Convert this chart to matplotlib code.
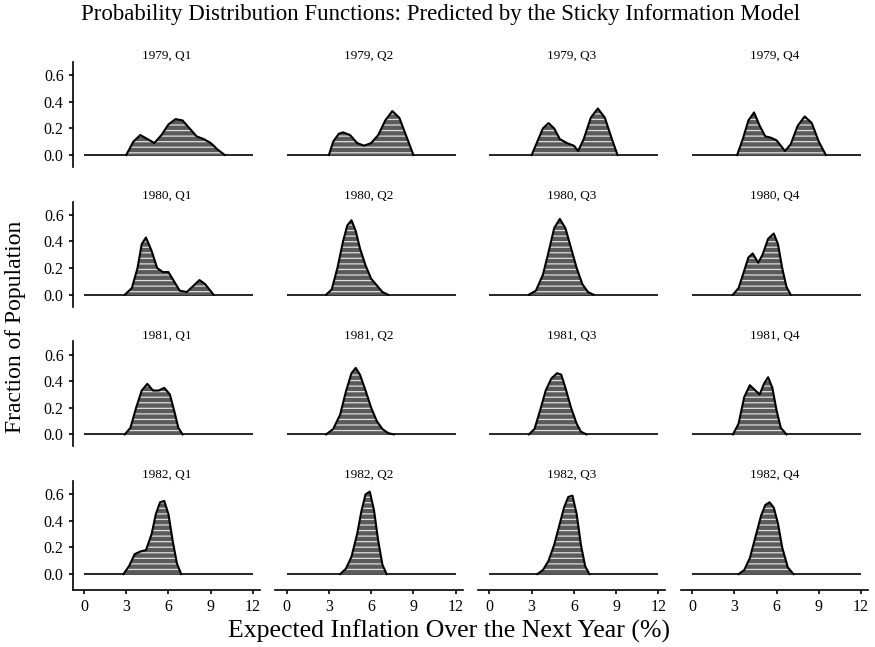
import matplotlib
matplotlib.use("Agg")
import matplotlib.pyplot as plt

plt.rcParams["font.family"] = ["Liberation Serif", "DejaVu Serif"]
plt.rcParams["hatch.linewidth"] = 0.9

years = ["1979", "1980", "1981", "1982"]
quarters = ["Q1", "Q2", "Q3", "Q4"]
x_ticks = [0, 3, 6, 9, 12]
y_ticks = [0.0, 0.2, 0.4, 0.6]

# density curves: (inflation %, fraction)
x_1979_q1 = [3.0, 3.5, 4.0, 4.5, 5.0, 5.5, 6.0, 6.5, 7.0, 7.5, 8.0, 8.5, 9.0, 9.5, 10.0]
y_1979_q1 = [0, 0.1, 0.15, 0.12, 0.09, 0.15, 0.23, 0.27, 0.26, 0.2, 0.14, 0.12, 0.09, 0.04, 0]
x_1979_q2 = [3.0, 3.3, 3.7, 4.0, 4.5, 5.0, 5.5, 6.0, 6.5, 7.0, 7.5, 8.0, 8.5, 9.0]
y_1979_q2 = [0, 0.1, 0.16, 0.17, 0.15, 0.09, 0.07, 0.09, 0.15, 0.26, 0.33, 0.28, 0.14, 0]
x_1979_q3 = [3.0, 3.4, 3.8, 4.2, 4.6, 5.0, 5.5, 6.0, 6.3, 6.7, 7.2, 7.7, 8.2, 8.7, 9.1]
y_1979_q3 = [0, 0.1, 0.2, 0.24, 0.2, 0.12, 0.09, 0.07, 0.03, 0.12, 0.28, 0.35, 0.28, 0.12, 0]
x_1979_q4 = [3.2, 3.6, 4.0, 4.4, 4.8, 5.2, 5.6, 6.0, 6.6, 7.0, 7.5, 8.0, 8.5, 9.0, 9.5]
y_1979_q4 = [0, 0.12, 0.26, 0.32, 0.22, 0.14, 0.13, 0.11, 0.03, 0.08, 0.22, 0.29, 0.24, 0.1, 0]

x_1980_q1 = [2.9, 3.4, 3.8, 4.1, 4.4, 4.8, 5.2, 5.6, 6.0, 6.4, 6.8, 7.3, 7.8, 8.2, 8.6, 9.2]
y_1980_q1 = [0, 0.05, 0.2, 0.38, 0.43, 0.33, 0.2, 0.17, 0.17, 0.1, 0.03, 0.02, 0.07, 0.11, 0.08, 0]
x_1980_q2 = [2.8, 3.2, 3.6, 4.0, 4.3, 4.6, 4.9, 5.2, 5.6, 6.0, 6.4, 6.8, 7.2]
y_1980_q2 = [0, 0.04, 0.2, 0.4, 0.52, 0.56, 0.48, 0.35, 0.22, 0.12, 0.07, 0.02, 0]
x_1980_q3 = [2.8, 3.3, 3.8, 4.2, 4.6, 5.0, 5.4, 5.8, 6.2, 6.6, 7.0, 7.4]
y_1980_q3 = [0, 0.03, 0.15, 0.32, 0.5, 0.57, 0.5, 0.35, 0.2, 0.08, 0.02, 0]
x_1980_q4 = [2.9, 3.3, 3.7, 4.0, 4.3, 4.7, 5.0, 5.4, 5.8, 6.1, 6.4, 6.7, 7.0]
y_1980_q4 = [0, 0.05, 0.18, 0.28, 0.31, 0.24, 0.3, 0.42, 0.46, 0.38, 0.2, 0.06, 0]

x_1981_q1 = [2.9, 3.3, 3.7, 4.1, 4.5, 4.9, 5.3, 5.7, 6.1, 6.4, 6.7, 7.0]
y_1981_q1 = [0, 0.05, 0.2, 0.33, 0.38, 0.33, 0.33, 0.35, 0.3, 0.18, 0.05, 0]
x_1981_q2 = [2.8, 3.3, 3.8, 4.2, 4.6, 4.9, 5.2, 5.6, 6.0, 6.4, 6.8, 7.2, 7.6]
y_1981_q2 = [0, 0.04, 0.15, 0.32, 0.46, 0.5, 0.45, 0.33, 0.2, 0.1, 0.04, 0.01, 0]
x_1981_q3 = [2.8, 3.2, 3.6, 4.0, 4.4, 4.8, 5.1, 5.4, 5.8, 6.2, 6.5, 6.9]
y_1981_q3 = [0, 0.04, 0.18, 0.33, 0.42, 0.46, 0.45, 0.35, 0.2, 0.08, 0.02, 0]
x_1981_q4 = [2.9, 3.3, 3.7, 4.1, 4.5, 4.8, 5.1, 5.4, 5.7, 6.0, 6.3, 6.7]
y_1981_q4 = [0, 0.08, 0.28, 0.37, 0.33, 0.3, 0.38, 0.43, 0.35, 0.18, 0.05, 0]

x_1982_q1 = [2.8, 3.2, 3.6, 4.0, 4.4, 4.8, 5.1, 5.4, 5.7, 6.0, 6.3, 6.6, 6.9]
y_1982_q1 = [0, 0.06, 0.15, 0.17, 0.18, 0.3, 0.45, 0.54, 0.55, 0.45, 0.25, 0.08, 0]
x_1982_q2 = [3.8, 4.2, 4.6, 5.0, 5.3, 5.6, 5.9, 6.2, 6.5, 6.8, 7.1]
y_1982_q2 = [0, 0.04, 0.13, 0.3, 0.47, 0.6, 0.62, 0.48, 0.25, 0.07, 0]
x_1982_q3 = [3.4, 3.8, 4.2, 4.6, 5.0, 5.3, 5.6, 5.9, 6.2, 6.5, 6.8, 7.1]
y_1982_q3 = [0, 0.03, 0.1, 0.22, 0.38, 0.5, 0.58, 0.59, 0.45, 0.22, 0.06, 0]
x_1982_q4 = [3.3, 3.7, 4.1, 4.5, 4.9, 5.2, 5.5, 5.8, 6.1, 6.4, 6.8, 7.2]
y_1982_q4 = [0, 0.03, 0.12, 0.28, 0.44, 0.52, 0.54, 0.5, 0.38, 0.2, 0.05, 0]

curves = [
    [(x_1979_q1, y_1979_q1), (x_1979_q2, y_1979_q2), (x_1979_q3, y_1979_q3), (x_1979_q4, y_1979_q4)],
    [(x_1980_q1, y_1980_q1), (x_1980_q2, y_1980_q2), (x_1980_q3, y_1980_q3), (x_1980_q4, y_1980_q4)],
    [(x_1981_q1, y_1981_q1), (x_1981_q2, y_1981_q2), (x_1981_q3, y_1981_q3), (x_1981_q4, y_1981_q4)],
    [(x_1982_q1, y_1982_q1), (x_1982_q2, y_1982_q2), (x_1982_q3, y_1982_q3), (x_1982_q4, y_1982_q4)],
]

W, H = 875, 647
fig = plt.figure(figsize=(W / 100, H / 100), dpi=100)

# panel geometry in pixels
x_unit, y_unit = 14.08, 133.0
xlim = (-0.8, 12.5)
ylim = (-0.09, 0.7)
for r in range(4):
    zero_px = 155 + r * 139.7
    for c in range(4):
        lo = ylim[0] if r < 3 else -0.12
        left = 84 - 0.8 * x_unit + c * 202.7
        width = (xlim[1] - xlim[0]) * x_unit
        bottom = zero_px - lo * y_unit
        height = (ylim[1] - lo) * y_unit
        ax = fig.add_axes([left / W, 1 - bottom / H, width / W, height / H])
        xs, ys = curves[r][c]
        ax.hlines(0, 0, 12, color="black", lw=1.2, zorder=1)
        ax.fill_between(xs, ys, color="#5a5a5a", lw=0, zorder=2)
        ax.fill_between(xs, ys, facecolor="none", edgecolor="#dddddd",
                        hatch="---", lw=0, zorder=3)
        ax.plot(xs, ys, color="black", lw=1.5, solid_joinstyle="round", zorder=4)
        ax.set_xlim(*xlim)
        ax.set_ylim(lo, ylim[1])
        ax.set_title(f"{years[r]}, {quarters[c]}", fontsize=9.5, pad=1)
        for side in ["top", "right", "left", "bottom"]:
            ax.spines[side].set_visible(False)
        ax.tick_params(direction="out", length=3, width=1.2, labelsize=11.5)
        if c == 0:
            ax.spines["left"].set_visible(True)
            ax.spines["left"].set_linewidth(1.2)
            ax.set_yticks(y_ticks)
            ax.set_yticklabels([f"{v:.1f}" for v in y_ticks])
        else:
            ax.set_yticks([])
        if r == 3:
            ax.spines["bottom"].set_visible(True)
            ax.spines["bottom"].set_linewidth(1.2)
            ax.set_xticks(x_ticks)
        else:
            ax.set_xticks([])

fig.text(0.503, 0.978, "Probability Distribution Functions: Predicted by the Sticky Information Model",
         ha="center", va="center", fontsize=16.5)
fig.text(0.513, 0.025, "Expected Inflation Over the Next Year (%)",
         ha="center", va="center", fontsize=18.5)
fig.text(0.018, 0.495, "Fraction of Population", rotation=90,
         ha="center", va="center", fontsize=17)

fig.savefig("out.png", dpi=100)
